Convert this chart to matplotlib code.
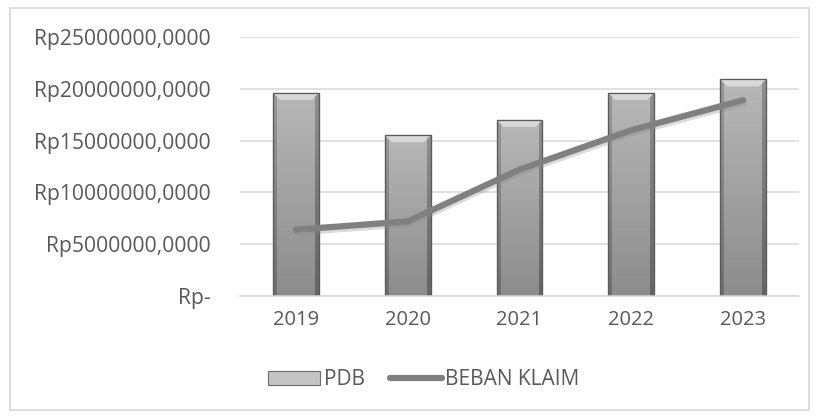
import matplotlib
matplotlib.use("Agg")
from matplotlib import pyplot as plt
from matplotlib import patheffects as pe
from matplotlib.patches import Rectangle, Polygon
from matplotlib.lines import Line2D
import numpy as np

years = ["2019", "2020", "2021", "2022", "2023"]
pdb = [19600000, 15500000, 17000000, 19600000, 20900000]
beban_klaim = [6400000, 7200000, 12200000, 16000000, 18900000]
yticks = [0, 5000000, 10000000, 15000000, 20000000, 25000000]
ytick_labels = ["Rp-", "Rp5000000,0000", "Rp10000000,0000", "Rp15000000,0000",
                "Rp20000000,0000", "Rp25000000,0000"]

plt.rcParams["font.family"] = ["Open Sans", "DejaVu Sans"]
txt = "#595959"

fig = plt.figure(figsize=(8.18, 4.16), dpi=100)
ax = fig.add_axes([0.2934, 0.2885, 0.6834, 0.6226])

# outer chart border
fig.patches.append(Rectangle((10 / 818, 6 / 416), 799 / 818, 402 / 416,
                             transform=fig.transFigure, fill=False,
                             edgecolor="#d9d9d9", linewidth=1.2))

x = np.arange(len(years))
bars = ax.bar(x, pdb, width=0.41, color="#a0a0a0", edgecolor="#555555",
              linewidth=0.8, zorder=2)
ax.set_xlim(-0.5, len(years) - 0.5)
ax.set_ylim(0, 25000000)

# bevelled bar shading: light top fading down, darker side edges
px_to_data = 25000000 / (0.6226 * 416)
for b in bars:
    x0, y0 = b.get_x(), b.get_y()
    w, h = b.get_width(), b.get_height()
    npx = max(int(h / px_to_data), 2)
    v = np.linspace(0.0, 1.0, npx).reshape(-1, 1)     # 0 = top, 1 = bottom
    u = np.linspace(0.0, 1.0, 46).reshape(1, -1)
    base = 0.72 - 0.17 * v                             # vertical fade
    side = np.where(u < 0.07, -0.12, 0) + np.where(u > 0.93, -0.16, 0)
    img = np.clip(base + side, 0, 1)
    rgb = np.dstack([img, img, img])
    im = ax.imshow(rgb, extent=(x0, x0 + w, y0, y0 + h), aspect="auto",
                   zorder=2.1, interpolation="bilinear")
    im.set_clip_path(b)
    bev = 7 * px_to_data
    bw = w * 0.15
    ax.add_patch(Polygon([(x0, y0 + h), (x0 + w, y0 + h), (x0 + w - bw, y0 + h - bev),
                          (x0 + bw, y0 + h - bev)], closed=True,
                         facecolor="#dcdcdc", edgecolor="none", alpha=0.9, zorder=2.2))
    ax.add_patch(Rectangle((x0, y0), w, h, fill=False, edgecolor="#5a5a5a",
                           linewidth=0.9, zorder=2.3))

ax.plot(x, beban_klaim, color="#808080", linewidth=4.5, solid_capstyle="round",
        zorder=3,
        path_effects=[pe.SimpleLineShadow(offset=(0.5, -2), shadow_color="#8a8a8a",
                                          alpha=0.3), pe.Normal()])

ax.set_xticks(x, years)
ax.set_yticks(yticks, ytick_labels)
ax.tick_params(axis="y", length=0, labelsize=15.2, colors=txt, pad=21)
ax.tick_params(axis="x", length=0, labelsize=14.5, colors=txt, pad=10)
ax.grid(axis="y", color="#d9d9d9", linewidth=1.1, zorder=0)
ax.set_axisbelow(True)
for s in ["top", "right", "left"]:
    ax.spines[s].set_visible(False)
ax.spines["bottom"].set_color("#d9d9d9")
ax.spines["bottom"].set_linewidth(1.1)

handles = [Rectangle((0, 0), 1, 1, facecolor="#c4c4c4", edgecolor="#6a6a6a", linewidth=0.8),
           Line2D([], [], color="#808080", linewidth=4.5, solid_capstyle="round")]
fig.legend(handles, ["PDB", "BEBAN KLAIM"], loc="center", bbox_to_anchor=(0.518, 0.087),
           ncol=2, frameon=False, fontsize=15, labelcolor=txt, handlelength=2.5,
           handletextpad=0.15, columnspacing=1.2, handleheight=0.6)

fig.savefig("out.png", dpi=100)
